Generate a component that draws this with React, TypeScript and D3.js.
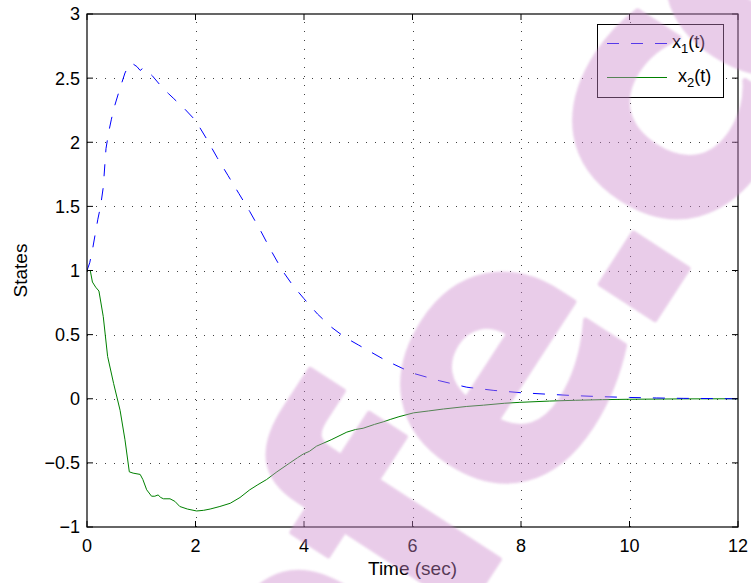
import React from "react";
import * as d3 from "d3";

// Simulation time samples and the two state trajectories
const t1 = [0, 0.05, 0.1, 0.15, 0.2, 0.25, 0.3, 0.35, 0.4, 0.45, 0.5, 0.6, 0.7, 0.78, 0.85, 0.92, 0.98, 1.04, 1.1, 1.2, 1.3, 1.4, 1.5, 1.6, 1.8, 2.0, 2.2, 2.4, 2.6, 2.8, 3.0, 3.2, 3.4, 3.6, 3.8, 4.0, 4.25, 4.5, 4.75, 5.0, 5.25, 5.5, 5.75, 6.0, 6.5, 7.0, 7.5, 8.0, 8.5, 9.0, 9.5, 10, 10.5, 11, 11.5, 12];
const x1 = [1.0, 1.06, 1.16, 1.28, 1.4, 1.5, 1.65, 1.95, 2.08, 2.18, 2.27, 2.41, 2.54, 2.61, 2.61, 2.59, 2.56, 2.58, 2.56, 2.52, 2.47, 2.42, 2.38, 2.34, 2.26, 2.17, 2.03, 1.88, 1.74, 1.6, 1.46, 1.31, 1.15, 1.0, 0.88, 0.78, 0.66, 0.56, 0.48, 0.42, 0.36, 0.3, 0.25, 0.2, 0.14, 0.09, 0.065, 0.047, 0.035, 0.024, 0.016, 0.01, 0.006, 0.003, 0.0015, 0.0];

const t2 = [0, 0.06, 0.1, 0.16, 0.22, 0.3, 0.38, 0.49, 0.61, 0.7, 0.78, 0.85, 0.98, 1.03, 1.1, 1.19, 1.25, 1.31, 1.36, 1.41, 1.53, 1.62, 1.71, 1.85, 2.02, 2.15, 2.27, 2.45, 2.64, 2.82, 3.0, 3.15, 3.31, 3.5, 3.74, 3.88, 3.99, 4.1, 4.23, 4.5, 4.79, 4.95, 5.09, 5.3, 5.46, 5.6, 5.75, 6.02, 6.3, 6.57, 7.0, 7.31, 7.7, 7.98, 8.53, 9.0, 9.5, 10, 11, 12];
const x2 = [1.0, 1.0, 0.91, 0.87, 0.84, 0.64, 0.33, 0.12, -0.09, -0.32, -0.57, -0.58, -0.59, -0.63, -0.71, -0.76, -0.76, -0.75, -0.77, -0.78, -0.78, -0.8, -0.84, -0.86, -0.875, -0.87, -0.86, -0.84, -0.815, -0.77, -0.71, -0.67, -0.63, -0.57, -0.5, -0.46, -0.43, -0.41, -0.37, -0.32, -0.26, -0.24, -0.23, -0.2, -0.18, -0.16, -0.14, -0.11, -0.095, -0.08, -0.06, -0.05, -0.035, -0.028, -0.018, -0.012, -0.007, -0.004, -0.001, 0.0];

const xTicks = [0, 2, 4, 6, 8, 10, 12];
const yTicks = [-1, -0.5, 0, 0.5, 1, 1.5, 2, 2.5, 3];
const seriesNames = ["1", "2"];

const W = 751;
const H = 583;
const L = 87, R = 738, T = 14, B = 527;
const FONT = "'Liberation Sans', Arial, Helvetica, sans-serif";

const fmt = (v: number) => (v < 0 ? "\u2212" + String(-v) : String(v));

export default function App() {
  const x = d3.scaleLinear().domain([0, 12]).range([L, R]);
  const y = d3.scaleLinear().domain([-1, 3]).range([B, T]);

  const line = d3
    .line<[number, number]>()
    .x((d) => x(d[0]))
    .y((d) => y(d[1]));

  const d1 = line(t1.map((t, i) => [t, x1[i]] as [number, number])) || "";
  const d2 = line(t2.map((t, i) => [t, x2[i]] as [number, number])) || "";

  const fs = 18;
  const titleFs = 19;

  // watermark glyph layout along a rotated baseline
  const wmGlyphs: [string, number][] = [
    ["a", -165],
    ["f", 10],
    ["e", 188],
    [".", 348],
    ["c", 488],
    ["o", 676],
  ];

  return (
    <svg
      width={W}
      height={H}
      style={{ position: "absolute", left: 0, top: 0, background: "#fff" }}
    >
      <defs>
        <filter id="wmBlur" x="-10%" y="-10%" width="120%" height="120%">
          <feGaussianBlur stdDeviation="1" />
        </filter>
        <clipPath id="plotClip">
          <rect x={L} y={T} width={R - L} height={B - T} />
        </clipPath>
      </defs>
      <rect x={0} y={0} width={W} height={H} fill="#fff" />

      {/* grid */}
      <g stroke="#000" strokeOpacity={0.75} strokeWidth={1} strokeDasharray="1 8">
        {xTicks.slice(1, -1).map((v) => (
          <line key={"gx" + v} x1={Math.round(x(v)) + 0.5} x2={Math.round(x(v)) + 0.5} y1={B} y2={T} />
        ))}
        {yTicks.slice(1, -1).map((v) => (
          <line key={"gy" + v} x1={L} x2={R} y1={Math.round(y(v)) + 0.5} y2={Math.round(y(v)) + 0.5} />
        ))}
      </g>

      {/* data */}
      <g clipPath="url(#plotClip)" fill="none" strokeWidth={1}>
        <path d={d2} stroke="#008000" />
        <path d={d1} stroke="#0000ff" strokeDasharray="12 12" />
      </g>

      {/* axes box and ticks */}
      <rect x={L} y={T} width={R - L} height={B - T} fill="none" stroke="#000" strokeWidth={1.2} />
      <g stroke="#000" strokeWidth={1}>
        {xTicks.map((v) => (
          <g key={"tx" + v}>
            <line x1={x(v)} x2={x(v)} y1={B} y2={B - 6} />
            <line x1={x(v)} x2={x(v)} y1={T} y2={T + 6} />
          </g>
        ))}
        {yTicks.map((v) => (
          <g key={"ty" + v}>
            <line x1={L} x2={L + 6} y1={y(v)} y2={y(v)} />
            <line x1={R} x2={R - 6} y1={y(v)} y2={y(v)} />
          </g>
        ))}
      </g>

      {/* tick labels and axis titles */}
      <g fontFamily={FONT} fontSize={fs} fill="#000">
        {xTicks.map((v) => (
          <text key={"lx" + v} x={x(v)} y={552} textAnchor="middle">
            {fmt(v)}
          </text>
        ))}
        {yTicks.map((v) => (
          <text key={"ly" + v} x={80} y={y(v)} dy="0.36em" textAnchor="end">
            {fmt(v)}
          </text>
        ))}
        <text x={(L + R) / 2} y={575} textAnchor="middle" fontSize={titleFs}>
          Time (sec)
        </text>
        <text
          transform={`translate(27,${(T + B) / 2}) rotate(-90)`}
          textAnchor="middle"
          fontSize={titleFs}
        >
          States
        </text>
      </g>

      {/* legend */}
      <g>
        <rect x={597.5} y={24.5} width={126} height={73} fill="#fff" stroke="#000" strokeWidth={1} />
        <line x1={607} x2={667} y1={43.5} y2={43.5} stroke="#0000ff" strokeWidth={1} strokeDasharray="12 12" />
        <line x1={607} x2={667} y1={77.5} y2={77.5} stroke="#008000" strokeWidth={1} />
        <g fontFamily={FONT} fontSize={fs} fill="#000">
          {seriesNames.map((s, i) => (
            <text key={"leg" + s} x={i === 0 ? 672 : 678} y={i === 0 ? 48 : 82}>
              x
              <tspan dy={5} fontSize={13}>
                {s}
              </tspan>
              <tspan dy={-5}>(t)</tspan>
            </text>
          ))}
        </g>
      </g>

      {/* watermark overlay */}
      <g opacity={0.42} filter="url(#wmBlur)">
        <g transform="translate(482,586) rotate(-57)">
          {wmGlyphs.map(([ch, off]) => (
            <text
              key={ch + off}
              x={off}
              y={0}
              textAnchor="middle"
              fontFamily="'DejaVu Sans', sans-serif"
              fontWeight="bold"
              fontSize={345}
              fill="#cc88cc"
              stroke="#cc88cc"
              strokeWidth={5}
              strokeLinejoin="round"
            >
              {ch}
            </text>
          ))}
        </g>
      </g>
    </svg>
  );
}
